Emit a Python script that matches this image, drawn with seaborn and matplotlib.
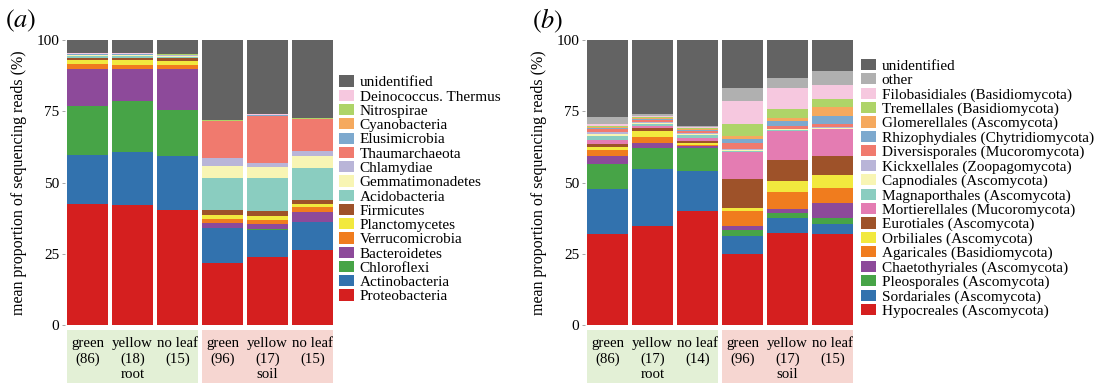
import numpy as np
import pandas as pd
import matplotlib
matplotlib.use("Agg")
import matplotlib.pyplot as plt
import seaborn as sns
from matplotlib.patches import Patch, Rectangle
import matplotlib.transforms as mtransforms

# ---------------- data ----------------
groups = ["green", "yellow", "no leaf", "green", "yellow", "no leaf"]
habitats = ["root", "soil"]
counts_a = [86, 18, 15, 96, 17, 15]
counts_b = [86, 17, 14, 96, 17, 15]

# Panel a: bacterial phyla (bottom -> top)
taxa_a = ["Proteobacteria", "Actinobacteria", "Chloroflexi", "Bacteroidetes",
          "Verrucomicrobia", "Planctomycetes", "Firmicutes", "Acidobacteria",
          "Gemmatimonadetes", "Chlamydiae", "Thaumarchaeota", "Elusimicrobia",
          "Cyanobacteria", "Nitrospirae", "Deinococcus. Thermus", "unidentified"]
proteobacteria = [42.4, 42.0, 40.2, 21.8, 23.9, 26.2]
actinobacteria = [17.2, 18.6, 19.1, 12.1, 9.4, 9.8]
chloroflexi = [17.2, 17.9, 16.0, 0.3, 0.3, 0.3]
bacteroidetes = [13.2, 11.3, 14.5, 1.6, 1.7, 3.5]
verrucomicrobia = [1.5, 1.5, 1.5, 1.5, 1.5, 1.6]
planctomycetes = [1.5, 1.6, 1.5, 1.4, 1.3, 1.2]
firmicutes = [0.8, 0.9, 0.8, 1.8, 1.9, 1.3]
acidobacteria = [0.6, 0.6, 0.6, 11.1, 11.6, 11.3]
gemmatimonadetes = [0.3, 0.3, 0.3, 4.3, 3.9, 4.2]
chlamydiae = [0.1, 0.1, 0.1, 2.6, 1.4, 1.7]
thaumarchaeota = [0.1, 0.1, 0.1, 13.0, 16.6, 11.1]
elusimicrobia = [0.1, 0.1, 0.1, 0.1, 0.1, 0.1]
cyanobacteria = [0.1, 0.1, 0.1, 0.1, 0.1, 0.1]
nitrospirae = [0.1, 0.1, 0.1, 0.1, 0.1, 0.1]
deinococcus = [0.1, 0.1, 0.1, 0.1, 0.1, 0.1]
unidentified_a = [4.7, 4.7, 4.9, 28.1, 26.1, 27.4]

# Panel b: fungal orders (bottom -> top)
taxa_b = ["Hypocreales (Ascomycota)", "Sordariales (Ascomycota)",
          "Pleosporales (Ascomycota)", "Chaetothyriales (Ascomycota)",
          "Agaricales (Basidiomycota)", "Orbiliales (Ascomycota)",
          "Eurotiales (Ascomycota)", "Mortierellales (Mucoromycota)",
          "Magnaporthales (Ascomycota)", "Capnodiales (Ascomycota)",
          "Kickxellales (Zoopagomycota)", "Diversisporales (Mucoromycota)",
          "Rhizophydiales (Chytridiomycota)", "Glomerellales (Ascomycota)",
          "Tremellales (Basidiomycota)", "Filobasidiales (Basidiomycota)",
          "other", "unidentified"]
hypocreales = [32.1, 34.7, 39.9, 24.9, 32.4, 32.0]
sordariales = [15.5, 20.0, 14.2, 6.3, 5.2, 3.6]
pleosporales = [8.9, 7.4, 8.0, 2.0, 1.7, 1.8]
chaetothyriales = [2.7, 1.8, 0.8, 1.6, 1.5, 5.4]
agaricales = [2.1, 2.0, 0.3, 5.2, 6.0, 5.1]
orbiliales = [1.0, 2.1, 0.6, 0.9, 3.7, 4.8]
eurotiales = [1.3, 1.1, 0.8, 10.2, 7.5, 6.6]
mortierellales = [1.2, 0.8, 1.0, 9.5, 10.0, 9.3]
magnaporthales = [1.5, 0.5, 1.0, 0.4, 0.3, 0.3]
capnodiales = [0.8, 0.5, 0.5, 0.4, 0.3, 0.3]
kickxellales = [0.5, 0.5, 0.3, 0.2, 0.2, 0.1]
diversisporales = [1.0, 0.6, 0.8, 2.1, 1.2, 1.1]
rhizophydiales = [0.5, 0.4, 0.3, 1.5, 1.5, 2.8]
glomerellales = [0.4, 0.3, 0.3, 1.1, 1.3, 3.3]
tremellales = [0.4, 0.2, 0.2, 4.1, 3.1, 2.8]
filobasidiales = [0.8, 0.4, 0.3, 8.3, 7.4, 4.8]
other_b = [2.2, 0.9, 0.6, 4.5, 3.4, 5.1]
unidentified_b = [27.1, 25.8, 30.1, 16.8, 13.3, 10.8]

values_a = [proteobacteria, actinobacteria, chloroflexi, bacteroidetes,
            verrucomicrobia, planctomycetes, firmicutes, acidobacteria,
            gemmatimonadetes, chlamydiae, thaumarchaeota, elusimicrobia,
            cyanobacteria, nitrospirae, deinococcus, unidentified_a]
values_b = [hypocreales, sordariales, pleosporales, chaetothyriales, agaricales,
            orbiliales, eurotiales, mortierellales, magnaporthales, capnodiales,
            kickxellales, diversisporales, rhizophydiales, glomerellales,
            tremellales, filobasidiales, other_b, unidentified_b]

# ---------------- colours ----------------
base_cols = ["#D51F1F", "#3272AE", "#47A447", "#8D4A9A", "#F07C1E", "#F2E93E",
             "#9E5229"]
set3_cols = ["#8ACDC0", "#F8F5B4", "#B9B5D8", "#F07A6E", "#7DA9CE", "#F5A95E",
             "#AED468", "#F6C8DF"]
colors_a = base_cols + set3_cols + ["#636363"]
colors_b = base_cols + ["#E47CB2"] + set3_cols + ["#B0B0B0", "#636363"]

SERIF = ["Liberation Serif", "DejaVu Serif"]

sns.set_theme(style="white")
plt.rcParams["font.family"] = SERIF
plt.rcParams["mathtext.fontset"] = "stix"
plt.rcParams["text.color"] = "black"
plt.rcParams["axes.labelcolor"] = "black"
plt.rcParams["ytick.color"] = "black"

fig = plt.figure(figsize=(11.02, 3.83), dpi=100)
W, H = 1102, 383


def px_axes(l, b, r, t):
    return fig.add_axes([l / W, 1 - b / H, (r - l) / W, (b - t) / H])


def draw_panel(ax, taxa, values, colors, counts, leg_xy):
    rows = []
    for taxon, vals in zip(taxa, values):
        for i, v in enumerate(vals):
            rows.append({"pos": i, "taxon": taxon, "val": v})
    df = pd.DataFrame(rows)
    pal = dict(zip(taxa, colors))
    sns.histplot(data=df, x="pos", weights="val", hue="taxon",
                 hue_order=taxa[::-1], palette=pal, multiple="stack",
                 discrete=True, shrink=0.9, linewidth=0, alpha=1,
                 legend=False, ax=ax)
    ax.set_xlim(-0.5, 5.5)
    ax.set_ylim(0, 100)
    ax.set_xticks([])
    ax.set_yticks([0, 25, 50, 75, 100])
    ax.set_yticklabels(["0", "25", "50", "75", "100"], fontsize=11)
    ax.tick_params(axis="y", length=2, width=0.6, color="#999999", pad=2,
                   left=True, labelcolor="black")
    for s in ax.spines.values():
        s.set_visible(False)
    ax.set_xlabel("")
    ax.set_ylabel("mean proportion of sequencing reads (%)", fontsize=11.5,
                  labelpad=7)
    ax.grid(False)

    # group boxes under the bars
    trans = mtransforms.blended_transform_factory(ax.transData, ax.transAxes)
    y0 = -0.21
    y1 = -0.016
    ax.add_patch(Rectangle((-0.45, y0), 2.9, y1 - y0, transform=trans,
                           facecolor="#E3F0D6", edgecolor="none",
                           clip_on=False))
    ax.add_patch(Rectangle((2.55, y0), 2.9, y1 - y0, transform=trans,
                           facecolor="#F6D6D1", edgecolor="none",
                           clip_on=False))
    for i, (g, n) in enumerate(zip(groups, counts)):
        ax.text(i, -0.064, g, transform=trans, ha="center", va="center",
                fontsize=10.7)
        ax.text(i, -0.119, f"({n})", transform=trans, ha="center",
                va="center", fontsize=10.7)
    ax.text(1, -0.174, habitats[0], transform=trans, ha="center",
            va="center", fontsize=10.7)
    ax.text(4, -0.174, habitats[1], transform=trans, ha="center",
            va="center", fontsize=10.7)

    handles = [Patch(facecolor=c, edgecolor="none", label=t)
               for t, c in zip(taxa[::-1], colors[::-1])]
    ax.legend(handles=handles, loc="upper left",
              bbox_to_anchor=(leg_xy[0] / W, 1 - leg_xy[1] / H),
              bbox_transform=fig.transFigure, frameon=False, fontsize=11,
              handlelength=0.95, handleheight=0.75, handletextpad=0.4,
              labelspacing=0.022, borderpad=0, borderaxespad=0)
    return ax


ax_a = px_axes(65, 325, 335, 40)
draw_panel(ax_a, taxa_a, values_a, colors_a, counts_a, (339, 75.5))
ax_b = px_axes(585, 325, 855, 40)
draw_panel(ax_b, taxa_b, values_b, colors_b, counts_b, (861, 59))

fig.text(5 / W, 1 - 21 / H, r"$(a)$", fontsize=19, va="center", ha="left")
fig.text(532 / W, 1 - 21 / H, r"$(b)$", fontsize=19, va="center", ha="left")

fig.savefig("out.png", dpi=100)
